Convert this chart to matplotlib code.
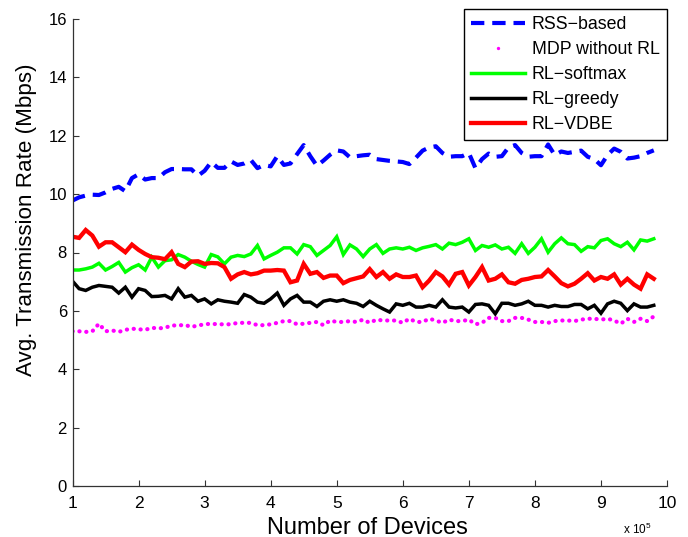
import numpy as np
import matplotlib
matplotlib.use("Agg")
import matplotlib.pyplot as plt
from matplotlib.lines import Line2D

plt.rcParams['font.family'] = ['Liberation Sans', 'DejaVu Sans']
plt.rcParams['mathtext.fontset'] = 'custom'
plt.rcParams['mathtext.rm'] = 'Liberation Sans'
plt.rcParams['mathtext.it'] = 'Liberation Sans'

# Number of devices (x 10^5)
devices = np.arange(10, 99) / 10.0

rss_based = [9.78, 9.89, 9.95, 9.98, 9.97, 10.06, 10.18, 10.25, 10.10, 10.55,
             10.68, 10.50, 10.55, 10.55, 10.75, 10.86, 10.86, 10.85, 10.85, 10.63,
             10.80, 11.10, 10.90, 10.90, 11.12, 11.00, 11.05, 11.17, 10.89, 11.00,
             10.95, 11.30, 11.00, 11.05, 11.37, 11.68, 11.30, 10.97, 11.15, 11.35,
             11.50, 11.46, 11.26, 11.30, 11.33, 11.35, 11.20, 11.17, 11.14, 11.12,
             11.10, 11.03, 11.25, 11.49, 11.60, 11.64, 11.41, 11.28, 11.30, 11.30,
             11.41, 10.89, 11.20, 11.39, 11.28, 11.30, 11.60, 11.68, 11.41, 11.28,
             11.30, 11.30, 11.70, 11.34, 11.46, 11.41, 11.45, 11.49, 11.28, 11.20,
             10.99, 11.34, 11.56, 11.45, 11.22, 11.25, 11.30, 11.41, 11.50]

mdp_without_rl = [5.30, 5.30, 5.28, 5.30, 5.56, 5.30, 5.33, 5.28, 5.35, 5.39,
                  5.37, 5.35, 5.42, 5.40, 5.42, 5.50, 5.50, 5.52, 5.45, 5.50,
                  5.54, 5.56, 5.54, 5.54, 5.54, 5.59, 5.59, 5.59, 5.51, 5.51,
                  5.54, 5.59, 5.65, 5.65, 5.54, 5.56, 5.59, 5.62, 5.51, 5.67,
                  5.62, 5.62, 5.65, 5.62, 5.70, 5.59, 5.70, 5.67, 5.67, 5.67,
                  5.59, 5.73, 5.62, 5.62, 5.73, 5.67, 5.59, 5.70, 5.65, 5.65,
                  5.70, 5.54, 5.59, 5.76, 5.76, 5.65, 5.65, 5.76, 5.76, 5.70,
                  5.62, 5.62, 5.59, 5.65, 5.67, 5.67, 5.65, 5.70, 5.73, 5.73,
                  5.70, 5.73, 5.67, 5.56, 5.73, 5.62, 5.73, 5.65, 5.81]

rl_softmax = [7.40, 7.40, 7.44, 7.50, 7.63, 7.40, 7.52, 7.66, 7.33, 7.48,
              7.58, 7.40, 7.84, 7.50, 7.72, 7.75, 7.93, 7.84, 7.70, 7.59,
              7.50, 7.93, 7.85, 7.61, 7.84, 7.90, 7.86, 7.95, 8.24, 7.78,
              7.90, 8.01, 8.16, 8.16, 7.95, 8.27, 8.20, 7.90, 8.07, 8.24,
              8.54, 7.93, 8.26, 8.12, 7.86, 8.12, 8.27, 7.97, 8.12, 8.16,
              8.12, 8.18, 8.07, 8.16, 8.21, 8.27, 8.12, 8.32, 8.27, 8.35,
              8.47, 8.07, 8.24, 8.18, 8.26, 8.12, 8.18, 7.97, 8.30, 7.97,
              8.18, 8.47, 8.01, 8.30, 8.50, 8.30, 8.27, 8.04, 8.20, 8.16,
              8.41, 8.47, 8.30, 8.20, 8.35, 8.09, 8.43, 8.39, 8.47]

rl_greedy = [7.02, 6.76, 6.70, 6.81, 6.87, 6.84, 6.81, 6.61, 6.81, 6.47,
             6.76, 6.70, 6.49, 6.50, 6.53, 6.41, 6.76, 6.47, 6.53, 6.33,
             6.41, 6.24, 6.38, 6.33, 6.30, 6.26, 6.56, 6.47, 6.30, 6.26,
             6.41, 6.61, 6.19, 6.41, 6.53, 6.30, 6.30, 6.15, 6.33, 6.38,
             6.33, 6.38, 6.30, 6.26, 6.15, 6.33, 6.19, 6.07, 5.96, 6.24,
             6.19, 6.26, 6.13, 6.13, 6.19, 6.13, 6.38, 6.13, 6.10, 6.13,
             5.96, 6.22, 6.24, 6.19, 5.90, 6.26, 6.26, 6.19, 6.24, 6.33,
             6.19, 6.19, 6.13, 6.19, 6.15, 6.15, 6.22, 6.22, 6.07, 6.19,
             5.92, 6.24, 6.33, 6.26, 6.01, 6.24, 6.13, 6.13, 6.19]

rl_vdbe = [8.54, 8.50, 8.77, 8.58, 8.20, 8.35, 8.35, 8.18, 8.01, 8.27,
           8.09, 7.95, 7.84, 7.82, 7.77, 8.01, 7.61, 7.50, 7.69, 7.70,
           7.61, 7.64, 7.63, 7.50, 7.10, 7.25, 7.33, 7.25, 7.29, 7.38,
           7.38, 7.40, 7.38, 6.98, 7.04, 7.61, 7.27, 7.33, 7.13, 7.21,
           7.21, 6.95, 7.06, 7.12, 7.18, 7.43, 7.16, 7.33, 7.10, 7.25,
           7.16, 7.16, 7.21, 6.81, 7.04, 7.33, 7.18, 6.90, 7.27, 7.33,
           6.87, 7.16, 7.50, 7.04, 7.10, 7.25, 6.98, 6.93, 7.06, 7.10,
           7.16, 7.18, 7.40, 7.18, 6.95, 6.84, 6.93, 7.10, 7.29, 7.04,
           7.16, 7.10, 7.25, 6.90, 7.10, 6.90, 6.76, 7.25, 7.10]

series_labels = ["RSS\u2212based", "MDP without RL", "RL\u2212softmax",
                 "RL\u2212greedy", "RL\u2212VDBE"]
x_ticks = list(range(1, 11))
y_ticks = list(range(0, 17, 2))

for s in (rss_based, mdp_without_rl, rl_softmax, rl_greedy, rl_vdbe):
    assert len(s) == len(devices), len(s)

W, H = 688, 537
fig = plt.figure(figsize=(W / 100, H / 100), dpi=100)
L, R, T, B = 72.5, 667, 19, 486
ax = fig.add_axes([L / W, 1 - B / H, (R - L) / W, (B - T) / H])

BLUE_DASH = (0, (3.2, 1.9))
ax.plot(devices, rss_based, color=(0, 0, 1), lw=3.0, ls=BLUE_DASH,
        dash_capstyle='butt')
ax.plot(devices, mdp_without_rl, color=(1, 0, 1), lw=3.0, ls=(0, (0.05, 1.6)),
        dash_capstyle='round')
ax.plot(devices, rl_softmax, color=(0, 1, 0), lw=2.5, solid_joinstyle='miter')
ax.plot(devices, rl_greedy, color='black', lw=2.5, solid_joinstyle='miter')
ax.plot(devices, rl_vdbe, color=(1, 0, 0), lw=3.1, solid_joinstyle='miter')

ax.set_xlim(1, 10)
ax.set_ylim(0, 16)
ax.set_xticks(x_ticks)
ax.set_yticks(y_ticks)
ax.set_xticklabels([str(t) for t in x_ticks])
ax.set_yticklabels([str(t) for t in y_ticks])
ax.spines['top'].set_visible(False)
ax.spines['right'].set_visible(False)
for sp in ('left', 'bottom'):
    ax.spines[sp].set_color('#333333')
    ax.spines[sp].set_linewidth(0.9)
ax.tick_params(direction='in', length=4, width=0.8, color='#333333',
               labelsize=12, labelcolor='black')
ax.tick_params(axis='x', pad=7, labelsize=12.5)
ax.tick_params(axis='y', pad=4)

fig.text(27 / W, 1 - 220 / H, "Avg. Transmission Rate (Mbps)", rotation=90,
         ha='center', va='center', fontsize=16.1)
fig.text(367 / W, 1 - 533.5 / H, "Number of Devices", ha='center', va='baseline',
         fontsize=17)
fig.text(623 / W, 3.0 / H, r"x 10$^{5}$", ha='left', va='baseline',
         fontsize=8.5)

handles = [
    Line2D([], [], color=(0, 0, 1), lw=3.0, ls=BLUE_DASH),
    Line2D([], [], color=(1, 0, 1), ls='none', marker='o', markersize=2.4,
           markeredgewidth=0),
    Line2D([], [], color=(0, 1, 0), lw=2.5),
    Line2D([], [], color='black', lw=2.5),
    Line2D([], [], color=(1, 0, 0), lw=3.1),
]
leg = fig.legend(handles, series_labels, loc='upper right',
                 bbox_to_anchor=(667 / W, 1 - 9 / H), bbox_transform=fig.transFigure,
                 fontsize=12.8, frameon=True, fancybox=False, shadow=False,
                 handlelength=3.0, handletextpad=0.4, labelspacing=0.44,
                 borderpad=0.42, borderaxespad=0)
leg.get_frame().set_edgecolor('black')
leg.get_frame().set_linewidth(1.0)
leg.get_frame().set_alpha(1)

fig.savefig("out.png", dpi=100)
